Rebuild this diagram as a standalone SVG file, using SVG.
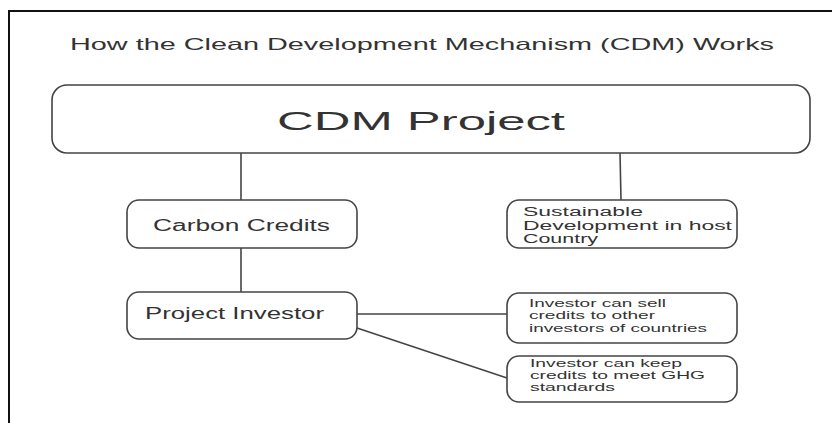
<svg xmlns="http://www.w3.org/2000/svg" width="832" height="423" viewBox="0 0 832 423">
<style>
.box{fill:#fff;stroke:#444;stroke-width:1.6}
.t{font-family:"Liberation Sans",Arial,sans-serif;fill:#333}
.c{stroke:#444;stroke-width:1.6;fill:none}
.f{stroke:#111;stroke-width:2;fill:none}
</style>
<rect width="832" height="423" fill="#fff"/>
<path class="f" d="M9,423 V11 H832"/>
<text class="t" x="70" y="50" font-size="16.5" textLength="704" lengthAdjust="spacingAndGlyphs">How the Clean Development Mechanism (CDM) Works</text>
<g id="connectors">
<line class="c" x1="241" y1="153" x2="241" y2="200"/>
<line class="c" x1="620" y1="153" x2="621" y2="200"/>
<line class="c" x1="241" y1="248" x2="241" y2="292"/>
<line class="c" x1="357" y1="314" x2="507" y2="314"/>
<line class="c" x1="357" y1="328" x2="507" y2="378"/>
</g>
<g id="cdm-project">
<rect class="box" x="52" y="85" width="758" height="68" rx="15"/>
<text class="t" x="277" y="130" font-size="26" textLength="288" lengthAdjust="spacingAndGlyphs" fill="#222">CDM Project</text>
</g>
<g id="carbon-credits">
<rect class="box" x="127" y="200" width="230" height="48" rx="12"/>
<text class="t" x="153" y="231" font-size="16" textLength="177" lengthAdjust="spacingAndGlyphs">Carbon Credits</text>
</g>
<g id="sustainable">
<rect class="box" x="507" y="200" width="230" height="48" rx="12"/>
<text class="t" font-size="12">
<tspan x="523" y="216" textLength="120" lengthAdjust="spacingAndGlyphs">Sustainable</tspan>
<tspan x="523" y="230" textLength="209" lengthAdjust="spacingAndGlyphs">Development in host</tspan>
<tspan x="523" y="243" textLength="75" lengthAdjust="spacingAndGlyphs">Country</tspan>
</text>
</g>
<g id="project-investor">
<rect class="box" x="127" y="292" width="230" height="47" rx="12"/>
<text class="t" x="145" y="319" font-size="16" textLength="179" lengthAdjust="spacingAndGlyphs">Project Investor</text>
</g>
<g id="sell">
<rect class="box" x="507" y="293" width="230" height="50" rx="12"/>
<text class="t" font-size="10.5">
<tspan x="529" y="307" textLength="137" lengthAdjust="spacingAndGlyphs">Investor can sell</tspan>
<tspan x="529" y="319" textLength="126" lengthAdjust="spacingAndGlyphs">credits to other</tspan>
<tspan x="529" y="332" textLength="178" lengthAdjust="spacingAndGlyphs">investors of countries</tspan>
</text>
</g>
<g id="keep">
<rect class="box" x="507" y="356" width="230" height="46" rx="12"/>
<text class="t" font-size="10.5">
<tspan x="530" y="367" textLength="152" lengthAdjust="spacingAndGlyphs">Investor can keep</tspan>
<tspan x="530" y="379" textLength="175" lengthAdjust="spacingAndGlyphs">credits to meet GHG</tspan>
<tspan x="530" y="391" textLength="85" lengthAdjust="spacingAndGlyphs">standards</tspan>
</text>
</g>
</svg>
